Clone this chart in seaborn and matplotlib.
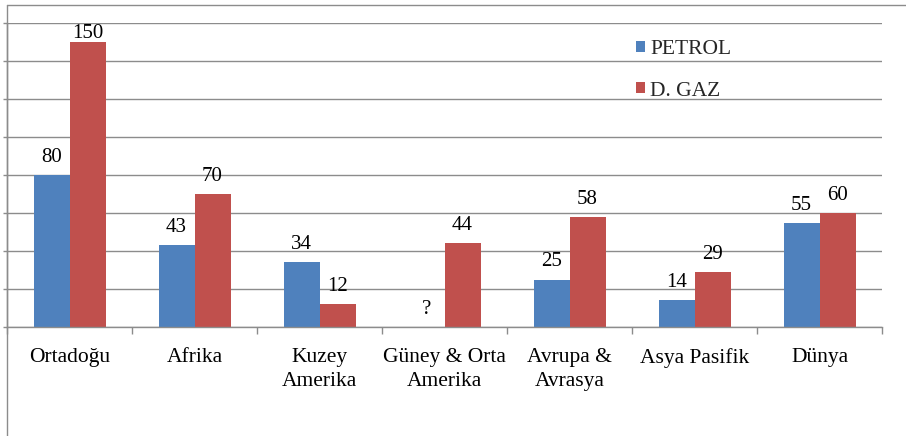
import numpy as np
import pandas as pd
import matplotlib
matplotlib.use("Agg")
import matplotlib.pyplot as plt
import seaborn as sns
from matplotlib.lines import Line2D

categories = ["Ortadoğu", "Afrika", "Kuzey\nAmerika", "Güney & Orta\nAmerika",
              "Avrupa &\nAvrasya", "Asya Pasifik", "Dünya"]
petrol = [80, 43, 34, np.nan, 25, 14, 55]
dgaz = [150, 70, 12, 44, 58, 29, 60]
series_names = ["PETROL", "D. GAZ"]
colors = ["#4F81BD", "#C0504D"]
yticks = list(range(0, 161, 20))

df = pd.DataFrame({
    "cat": categories * 2,
    "val": petrol + dgaz,
    "series": [series_names[0]] * len(categories) + [series_names[1]] * len(categories),
})

sns.set_theme(style="white")
plt.rcParams["font.family"] = ["Liberation Serif", "DejaVu Serif"]

fig = plt.figure(figsize=(9.06, 4.36), dpi=100)
ax = fig.add_axes([7 / 906, 1 - 327 / 436, 875 / 906, 304 / 436])

sns.barplot(data=df, x="cat", y="val", hue="series", order=categories,
            hue_order=series_names, palette=colors, width=0.576, saturation=1,
            ax=ax, legend=True, linewidth=0)

ymax = 160
ax.set_ylim(0, ymax)
ax.set_xlim(-0.5, len(categories) - 0.5)
ax.set_yticks(yticks)
ax.set_yticklabels([])
ax.yaxis.grid(True, color="#8c8c8c", linewidth=1)
ax.set_axisbelow(True)
ax.set_xlabel("")
ax.set_ylabel("")
for s in ["top", "right"]:
    ax.spines[s].set_visible(False)
for s in ["left", "bottom"]:
    ax.spines[s].set_color("#8c8c8c")
    ax.spines[s].set_linewidth(1)
ax.tick_params(axis="y", left=True, length=3, color="#8c8c8c", width=1)
ax.tick_params(axis="x", which="major", length=0, pad=15, labelsize=15.5, labelcolor="black")
ax.set_xticks(np.arange(-0.5, len(categories), 1), minor=True)
ax.tick_params(axis="x", which="minor", bottom=True, length=5, color="#8c8c8c", width=1)
for lbl in ax.get_xticklabels():
    lbl.set_linespacing(1.4)

# value labels: ~13 px above bar, kept inside plot area
px_per_unit = 304 / ymax
gap = 13 / px_per_unit
cap = ymax - 15.5 / px_per_unit


def label_y(v):
    return min(v + gap, cap)


offsets = []
for cont, vals in zip(ax.containers, [petrol, dgaz]):
    valid = [v for v in vals if not (isinstance(v, float) and np.isnan(v))]
    for p, v in zip(cont.patches, valid):
        xc = p.get_x() + p.get_width() / 2
        ax.text(xc, label_y(v), f"{int(v)}", ha="center", va="baseline",
                fontsize=15, color="black")
    p0 = cont.patches[0]
    offsets.append(p0.get_x() + p0.get_width() / 2)

for i, v in enumerate(petrol):
    if isinstance(v, float) and np.isnan(v):
        ax.text(i + offsets[0], label_y(0), "?", ha="center", va="baseline",
                fontsize=15, color="black")

leg = ax.legend(loc="upper left", bbox_to_anchor=(636 / 906, 1 - 40 / 436),
                bbox_transform=fig.transFigure, frameon=False, fontsize=15.5,
                handlelength=0.42, handleheight=0.42, handletextpad=0.25,
                labelspacing=1.05, borderpad=0, borderaxespad=0)

# chart frame (top and left borders)
fig.add_artist(Line2D([7 / 906, 1], [1 - 5 / 436, 1 - 5 / 436], transform=fig.transFigure,
                      color="#8c8c8c", linewidth=1))
fig.add_artist(Line2D([6.5 / 906, 6.5 / 906], [0, 1 - 5 / 436], transform=fig.transFigure,
                      color="#8c8c8c", linewidth=1))

fig.savefig("out.png", dpi=100, facecolor="white")
